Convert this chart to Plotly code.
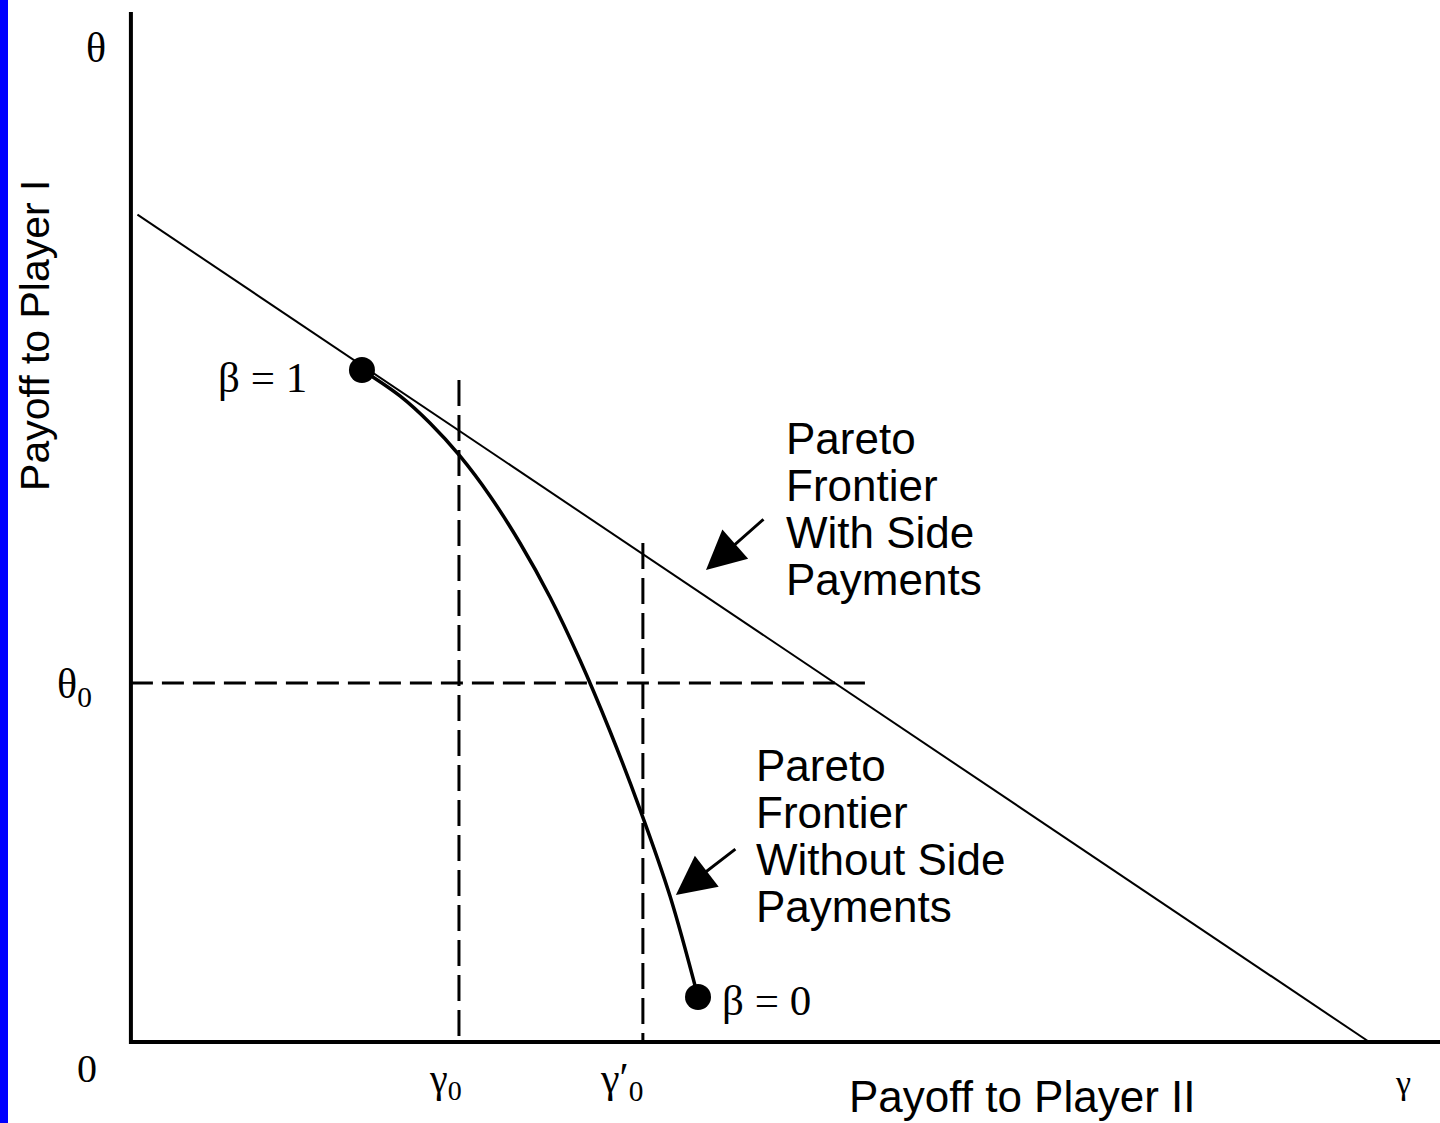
import plotly.graph_objects as go

# Pareto frontier with side payments (straight line)
side_x = [0.05, 9.46]
side_y = [7.94, 0.0]

# Pareto frontier without side payments (curve from beta=1 to beta=0)
no_side_x = [1.765, 2.055, 2.284, 2.513, 2.743, 2.972, 3.201, 3.430, 3.659, 3.888, 4.118, 4.332]
no_side_y = [6.449, 6.200, 5.940, 5.624, 5.240, 4.789, 4.271, 3.666, 2.985, 2.236, 1.401, 0.432]

# End points of the curve
beta_x = [1.765, 4.332]
beta_y = [6.449, 0.432]
beta_labels = ["β = 1", "β = 0"]

# Reference levels
gamma_0 = 2.506
gamma_0_prime = 3.911
theta_0 = 3.445
gamma_0_top = 6.353
gamma_0_prime_top = 4.789
theta_0_right = 5.607

# Axes extent
axis_x_max = 10.0
axis_y_max = 9.885

SANS = "Liberation Sans, Arial, sans-serif"
SERIF = "Liberation Serif, Times New Roman, serif"

fig = go.Figure()

# 1. Axes
fig.add_trace(go.Scatter(x=[0, 0, axis_x_max], y=[axis_y_max, 0, 0], mode="lines",
                         line=dict(color="black", width=4)))

# 2. Dashed reference lines
fig.add_trace(go.Scatter(x=[gamma_0, gamma_0], y=[gamma_0_top, 0], mode="lines",
                         line=dict(color="black", width=3, dash="26px,9px")))
fig.add_trace(go.Scatter(x=[gamma_0_prime, gamma_0_prime], y=[gamma_0_prime_top, 0], mode="lines",
                         line=dict(color="black", width=3, dash="26px,9px")))
fig.add_trace(go.Scatter(x=[0, theta_0_right], y=[theta_0, theta_0], mode="lines",
                         line=dict(color="black", width=3, dash="22px,9px")))

# 3. Frontiers
fig.add_trace(go.Scatter(x=side_x, y=side_y, mode="lines",
                         line=dict(color="black", width=2)))
fig.add_trace(go.Scatter(x=no_side_x, y=no_side_y, mode="lines",
                         line=dict(color="black", width=3.5, shape="spline", smoothing=1.0)))
fig.add_trace(go.Scatter(x=beta_x, y=beta_y, mode="markers",
                         marker=dict(color="black", size=26)))

annotations = []

# tick-like labels
def label(x, y, text, size=40, font=SERIF, **kw):
    annotations.append(dict(x=x, y=y, text=text, showarrow=False,
                            font=dict(family=font, size=size, color="black"), **kw))

label(-0.267, 9.54, "θ", size=42)
label(-0.43, theta_0 - 0.04, "θ<sub>0</sub>", size=42)
label(-0.336, -0.25, "0")
label(gamma_0 - 0.1, -0.37, "γ<sub>0</sub>")
label(gamma_0_prime - 0.16, -0.37, "γ′<sub>0</sub>", size=42)
label(9.72, -0.39, "γ", size=34)

# beta labels
label(beta_x[0] - 0.757, beta_y[0] - 0.07, beta_labels[0], size=43)
label(beta_x[1] + 0.165, beta_y[1] - 0.03, beta_labels[1], size=43, xanchor="left")

# axis titles
label(6.807, -0.774, "Payoff to Player II", size=44, font=SANS, yanchor="bottom")
label(-0.733, 6.785, "Payoff to Player I", size=41, font=SANS, textangle=-90)

# frontier descriptions
for i, t in enumerate(["Pareto", "Frontier", "With Side", "Payments"]):
    label(4.99, 5.79 - i * 0.451, t, size=44, font=SANS, xanchor="left")
for i, t in enumerate(["Pareto", "Frontier", "Without Side", "Payments"]):
    label(4.76, 2.65 - i * 0.451, t, size=44, font=SANS, xanchor="left")

# arrows
annotations.append(dict(x=4.393, y=4.530, ax=59, ay=-52, axref="pixel", ayref="pixel",
                        text="", showarrow=True, arrowhead=2, arrowsize=2.6,
                        arrowwidth=3, arrowcolor="black"))
annotations.append(dict(x=4.163, y=1.411, ax=61, ay=-47, axref="pixel", ayref="pixel",
                        text="", showarrow=True, arrowhead=2, arrowsize=2.6,
                        arrowwidth=3, arrowcolor="black"))

fig.update_layout(
    width=1440, height=1123,
    margin=dict(l=0, r=0, t=0, b=0),
    paper_bgcolor="white", plot_bgcolor="white",
    showlegend=False,
    xaxis=dict(range=[-1.0, 10.0], visible=False, fixedrange=True),
    yaxis=dict(range=[-0.777, 10.0], visible=False, fixedrange=True),
    annotations=annotations,
    shapes=[dict(type="rect", xref="paper", yref="paper", x0=0, x1=8 / 1440, y0=0, y1=1,
                 fillcolor="#0000FF", line=dict(width=0), layer="above")],
)

fig.write_html("out.html", config={"displayModeBar": False},
               post_script="document.body.style.margin='0';")
